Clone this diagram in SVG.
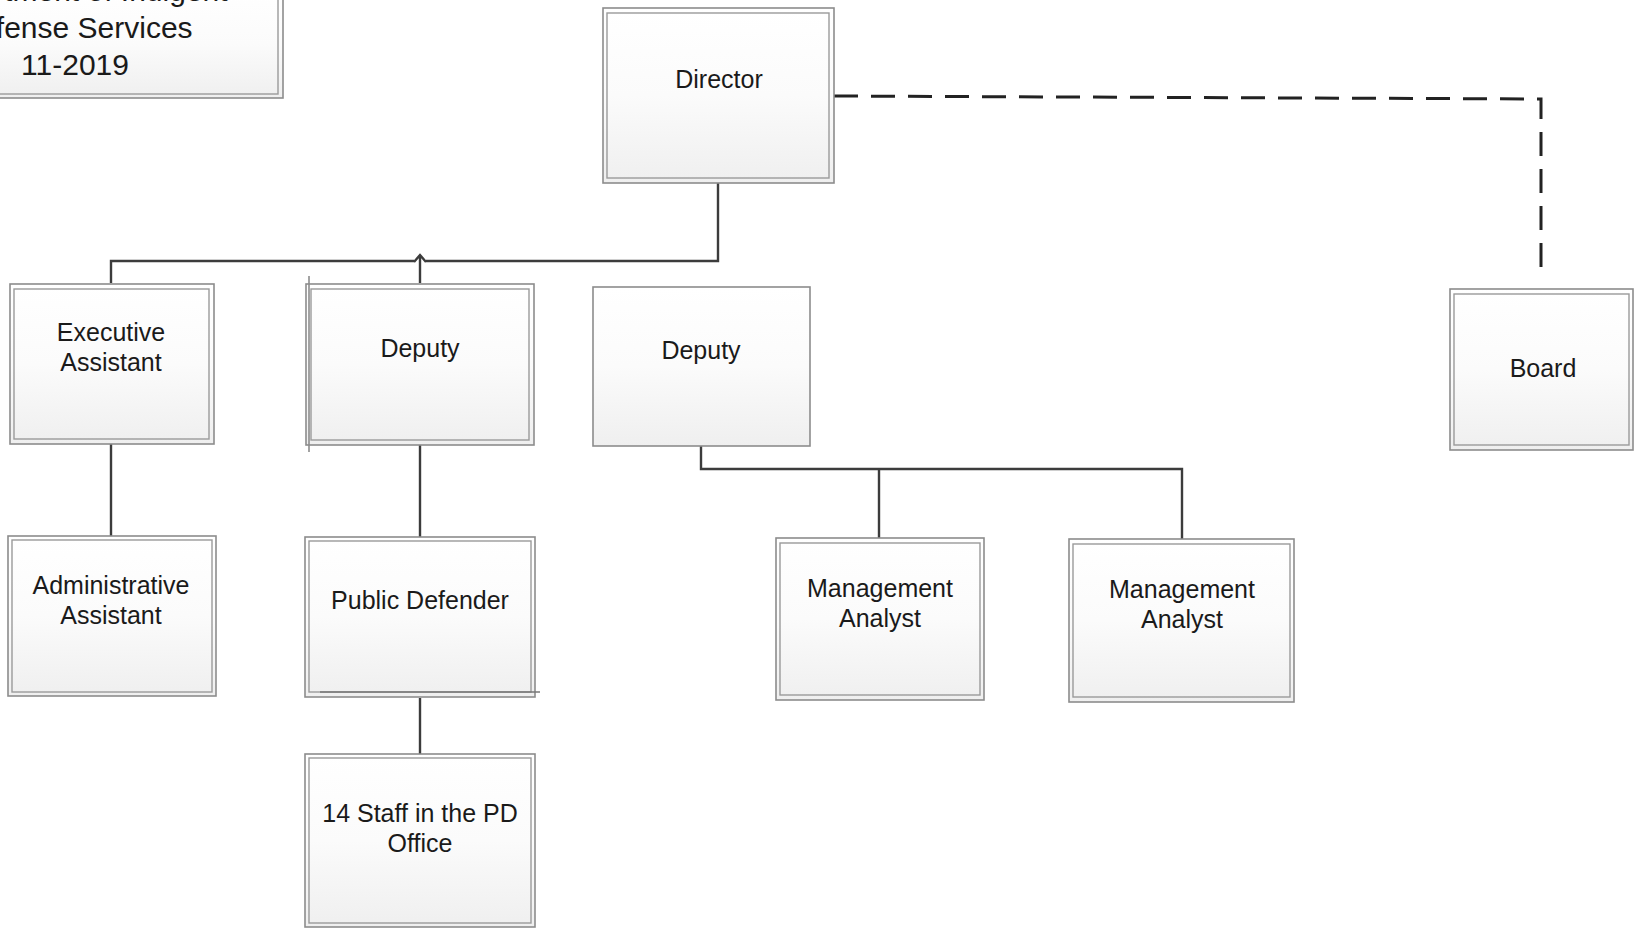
<svg xmlns="http://www.w3.org/2000/svg" width="1634" height="931" viewBox="0 0 1634 931">
<defs>
<linearGradient id="g" x1="0" y1="0" x2="0" y2="1">
<stop offset="0" stop-color="#ffffff"/>
<stop offset="0.5" stop-color="#fbfbfb"/>
<stop offset="1" stop-color="#efefef"/>
</linearGradient>
<style>
.o{fill:url(#g);stroke:#8c8c8c;stroke-width:1.6}
.i{fill:none;stroke:#9a9a9a;stroke-width:1.4}
.t{font-family:"Liberation Sans",Arial,sans-serif;font-size:25px;fill:#1a1a1a;text-anchor:middle}
.h{font-family:"Liberation Sans",Arial,sans-serif;font-size:30px;fill:#1a1a1a;text-anchor:middle}
.c{fill:none;stroke:#3c3c3c;stroke-width:2.4}
.d{fill:none;stroke:#222;stroke-width:3;stroke-dasharray:24 13}
</style>
</defs>
<rect width="1634" height="931" fill="#ffffff"/>

<g id="connectors">
<path class="c" d="M718,182 V261 H426 M414,261 H111 V283"/>
<path class="c" d="M414,262 L420,255 L426,262 M420,255 V283"/>
<path class="c" d="M111,443 V536"/>
<path class="c" d="M420,445 V537"/>
<path class="c" d="M420,698 V754"/>
<path class="c" d="M701,446 V469 H1182 V541 M879,469 V539"/>
<path class="d" d="M834,96 L1541,99 V275"/>
</g>

<g id="title">
<rect class="o" x="-10" y="-10" width="293" height="108"/>
<rect class="i" x="-10" y="-10" width="288" height="104"/>
<text class="h" x="75" y="1">Department of Indigent</text>
<text class="h" x="75" y="38">Defense Services</text>
<text class="h" x="75" y="75">11-2019</text>
</g>

<g id="director">
<rect class="o" x="603" y="8" width="231" height="175"/>
<rect class="i" x="607" y="13" width="222" height="165"/>
<text class="t" x="719" y="88">Director</text>
</g>

<g id="board">
<rect class="o" x="1450" y="289" width="183" height="161"/>
<rect class="i" x="1454" y="294" width="175" height="151"/>
<text class="t" x="1543" y="377">Board</text>
</g>

<g id="exec">
<rect class="o" x="10" y="284" width="204" height="160"/>
<rect class="i" x="14" y="289" width="195" height="150"/>
<text class="t" x="111" y="341">Executive</text>
<text class="t" x="111" y="371">Assistant</text>
</g>

<g id="deputy1">
<rect class="o" x="306" y="284" width="228" height="161"/>
<rect class="i" x="311" y="289" width="218" height="151"/>
<line x1="309" y1="276" x2="309" y2="452" stroke="#8c8c8c" stroke-width="1.6"/>
<text class="t" x="420" y="357">Deputy</text>
</g>

<g id="deputy2">
<rect class="o" x="593" y="287" width="217" height="159"/>
<text class="t" x="701" y="359">Deputy</text>
</g>

<g id="admin">
<rect class="o" x="8" y="536" width="208" height="160"/>
<rect class="i" x="12" y="540" width="200" height="152"/>
<text class="t" x="111" y="594">Administrative</text>
<text class="t" x="111" y="624">Assistant</text>
</g>

<g id="pd">
<rect class="o" x="305" y="537" width="230" height="160"/>
<rect class="i" x="309" y="541" width="222" height="151"/>
<line x1="320" y1="692" x2="540" y2="692" stroke="#777" stroke-width="1.6"/>
<text class="t" x="420" y="609">Public Defender</text>
</g>

<g id="staff">
<rect class="o" x="305" y="754" width="230" height="173"/>
<rect class="i" x="309" y="758" width="222" height="165"/>
<text class="t" x="420" y="822">14 Staff in the PD</text>
<text class="t" x="420" y="852">Office</text>
</g>

<g id="ma1">
<rect class="o" x="776" y="538" width="208" height="162"/>
<rect class="i" x="780" y="543" width="200" height="152"/>
<text class="t" x="880" y="597">Management</text>
<text class="t" x="880" y="627">Analyst</text>
</g>

<g id="ma2">
<rect class="o" x="1069" y="539" width="225" height="163"/>
<rect class="i" x="1073" y="544" width="217" height="153"/>
<text class="t" x="1182" y="598">Management</text>
<text class="t" x="1182" y="628">Analyst</text>
</g>
</svg>
